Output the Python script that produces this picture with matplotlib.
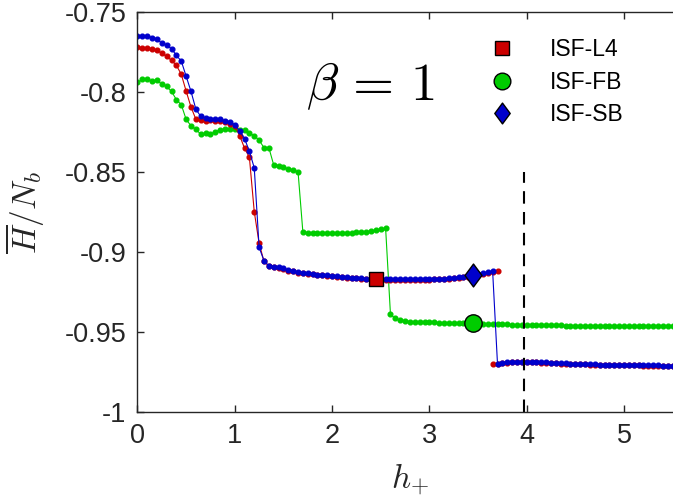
import numpy as np
import matplotlib
matplotlib.use('Agg')
import matplotlib.pyplot as plt
from matplotlib.lines import Line2D
from matplotlib.path import Path

plt.rcParams['font.family'] = ['Liberation Sans', 'DejaVu Sans']
plt.rcParams['mathtext.fontset'] = 'cm'

# sampling of h_+ (step 0.05)
h = np.round(np.arange(0, 5.51, 0.05), 2)

# ISF-SB (blue), one branch
sb = [-0.7648, -0.7648, -0.7650, -0.7658, -0.7670, -0.7692, -0.7707, -0.7727, -0.7770, -0.7805,
      -0.7900, -0.7995, -0.8106, -0.8151, -0.8161, -0.8167, -0.8166, -0.8168, -0.8177, -0.8185,
      -0.8204, -0.8242, -0.8290, -0.8369, -0.8473, -0.8970, -0.9054, -0.9085, -0.9091, -0.9096,
      -0.9102, -0.9112, -0.9117, -0.9125, -0.9128, -0.9132, -0.9136, -0.9140, -0.9143, -0.9146,
      -0.9149, -0.9152, -0.9155, -0.9157, -0.9159, -0.9161, -0.9163, -0.9165, -0.9166, -0.9167,
      -0.9168, -0.9169, -0.9170, -0.9170, -0.9171, -0.9171, -0.9171, -0.9171, -0.9170, -0.9170,
      -0.9169, -0.9168, -0.9167, -0.9165, -0.9163, -0.9161, -0.9158, -0.9155, -0.9151, -0.9146,
      -0.9139, -0.9132, -0.9126, -0.9120,
      -0.9700, -0.9695, -0.9690, -0.9688, -0.9686, -0.9685,
      -0.9685, -0.9686, -0.9687, -0.9689, -0.9690, -0.9692, -0.9693, -0.9695, -0.9696, -0.9697,
      -0.9698, -0.9699, -0.9700, -0.9701, -0.9702, -0.9703, -0.9703, -0.9704, -0.9705, -0.9705,
      -0.9706, -0.9706, -0.9707, -0.9707, -0.9708, -0.9708, -0.9709, -0.9709, -0.9710, -0.9710, -0.9710]

# ISF-L4 (red), upper branch (h index 0..74) and lower branch (h index 73..110)
l4_up = [-0.7717, -0.7721, -0.7726, -0.7732, -0.7738, -0.7757, -0.7776, -0.7801, -0.7832, -0.7888,
         -0.7993, -0.8093, -0.8169, -0.8172, -0.8177, -0.8175, -0.8177, -0.8183, -0.8189, -0.8197,
         -0.8214, -0.8271, -0.8350, -0.8407, -0.8747, -0.8945, -0.9058, -0.9088, -0.9094, -0.9099,
         -0.9105, -0.9115, -0.9120, -0.9128, -0.9131, -0.9135, -0.9139, -0.9143, -0.9146, -0.9149,
         -0.9152, -0.9155, -0.9158, -0.9160, -0.9162, -0.9164, -0.9166, -0.9168, -0.9169, -0.9170,
         -0.9171, -0.9172, -0.9173, -0.9173, -0.9174, -0.9174, -0.9174, -0.9174, -0.9173, -0.9173,
         -0.9172, -0.9171, -0.9170, -0.9168, -0.9166, -0.9164, -0.9161, -0.9158, -0.9154, -0.9149,
         -0.9142, -0.9135, -0.9129, -0.9123, -0.9117]
l4_low = [-0.9700, -0.9698, -0.9696, -0.9692, -0.9690, -0.9688, -0.9687, -0.9687, -0.9688, -0.9689,
          -0.9691, -0.9692, -0.9694, -0.9695, -0.9697, -0.9698, -0.9699, -0.9700, -0.9701, -0.9702,
          -0.9703, -0.9704, -0.9705, -0.9705, -0.9706, -0.9707, -0.9707, -0.9708, -0.9708, -0.9709,
          -0.9709, -0.9710, -0.9710, -0.9711, -0.9711, -0.9712, -0.9712, -0.9712]

# ISF-FB (green)
fb = [-0.7939, -0.7920, -0.7918, -0.7932, -0.7926, -0.7949, -0.7964, -0.7995, -0.8047, -0.8078,
      -0.8170, -0.8210, -0.8233, -0.8262, -0.8258, -0.8262, -0.8246, -0.8235, -0.8229, -0.8229,
      -0.8229, -0.8234, -0.8239, -0.8254, -0.8273, -0.8300, -0.8347, -0.8347, -0.8455, -0.8459,
      -0.8470, -0.8480, -0.8487, -0.8497, -0.8877, -0.8879, -0.8879, -0.8881, -0.8882, -0.8883,
      -0.8883, -0.8883, -0.8882, -0.8881, -0.8879, -0.8877, -0.8875, -0.8872, -0.8868, -0.8864,
      -0.8858, -0.8850,
      -0.9390, -0.9415, -0.9426, -0.9431, -0.9434, -0.9436, -0.9437, -0.9438,
      -0.9439, -0.9440, -0.9441, -0.9442, -0.9443, -0.9444, -0.9445, -0.9446, -0.9446, -0.9447,
      -0.9448, -0.9449, -0.9450, -0.9450, -0.9451, -0.9452, -0.9452, -0.9453, -0.9454, -0.9454,
      -0.9455, -0.9455, -0.9456, -0.9456, -0.9457, -0.9457, -0.9458, -0.9458, -0.9459, -0.9459,
      -0.9460, -0.9460, -0.9460, -0.9461, -0.9461, -0.9461, -0.9462, -0.9462, -0.9462, -0.9463,
      -0.9463, -0.9463, -0.9463, -0.9464, -0.9464, -0.9464, -0.9464, -0.9465, -0.9465, -0.9465, -0.9465]

# highlighted points
mark_h = [2.45, 3.45, 3.45]
mark_y = [-0.9167, -0.9442, -0.9146]
names = ['ISF-L4', 'ISF-FB', 'ISF-SB']
h_dash = 3.97

red = '#CC0000'
green = '#00CC00'
blue = '#0000CC'
axcol = '#262626'

# MATLAB-like diamond (narrower than tall)
diamond = Path([(0, 1), (0.74, 0), (0, -1), (-0.74, 0), (0, 1)],
               [Path.MOVETO, Path.LINETO, Path.LINETO, Path.LINETO, Path.CLOSEPOLY])

fig = plt.figure(figsize=(6.73, 5.0), dpi=100)
ax = fig.add_axes([0.2043, 0.176, 0.8024, 0.7994])

lw = 0.8
ms = 3.4
ax.plot(h, fb, '-o', color=green, lw=lw, ms=ms, mec=green)
ax.plot(h[:75], l4_up, '-o', color=red, lw=lw, ms=ms, mec=red)
ax.plot(h[73:], l4_low, '-o', color=red, lw=lw, ms=ms, mec=red)
ax.plot(h, sb, '-o', color=blue, lw=lw, ms=ms, mec=blue)

ax.plot([h_dash, h_dash], [-1, -0.85], color='k', lw=1.5, linestyle=(0, (6, 4)))

ax.plot(mark_h[0], mark_y[0], 's', color=red, ms=9.5, mec='k', mew=1.0)
ax.plot(mark_h[1], mark_y[1], 'o', color=green, ms=12.5, mec='k', mew=1.0)
ax.plot(mark_h[2], mark_y[2], marker=diamond, color=blue, ms=16.5, mec='k', mew=1.0, ls='none')

handles = [Line2D([], [], marker='s', color=red, mec='k', ms=10, ls='none'),
           Line2D([], [], marker='o', color=green, mec='k', ms=12, ls='none'),
           Line2D([], [], marker=diamond, color=blue, mec='k', ms=15, ls='none')]
ax.legend(handles, names, loc='upper left', bbox_to_anchor=(0.6952, 0.9466),
          bbox_transform=fig.transFigure, frameon=False, fontsize=16.5,
          handlelength=2.0, handletextpad=1.1, labelspacing=0.42, borderpad=0)

ax.text(2.39, -0.7965, r'$\beta\,=\,1$', fontsize=38, ha='center', va='center')

ax.set_xlim(0, 5.55)
ax.set_ylim(-1, -0.75)
ax.set_xticks([0, 1, 2, 3, 4, 5])
ax.set_yticks([-1, -0.95, -0.9, -0.85, -0.8, -0.75])
ax.set_yticklabels(['-1', '-0.95', '-0.9', '-0.85', '-0.8', '-0.75'])
ax.tick_params(direction='in', length=5, width=1.0, top=True, right=False,
               labelsize=19.5, colors=axcol, pad=8)
for s in ['left', 'bottom', 'top']:
    ax.spines[s].set_color(axcol)
    ax.spines[s].set_linewidth(1.0)
ax.spines['right'].set_visible(False)

ax.set_xlabel(r'$h_{+}$', fontsize=24, color=axcol)
ax.set_ylabel(r'$\overline{H}/N_b$', fontsize=24, color=axcol)
ax.xaxis.set_label_coords(0.505, -0.125)
ax.yaxis.set_label_coords(-0.168, 0.5)

fig.savefig('out.png', dpi=100)
